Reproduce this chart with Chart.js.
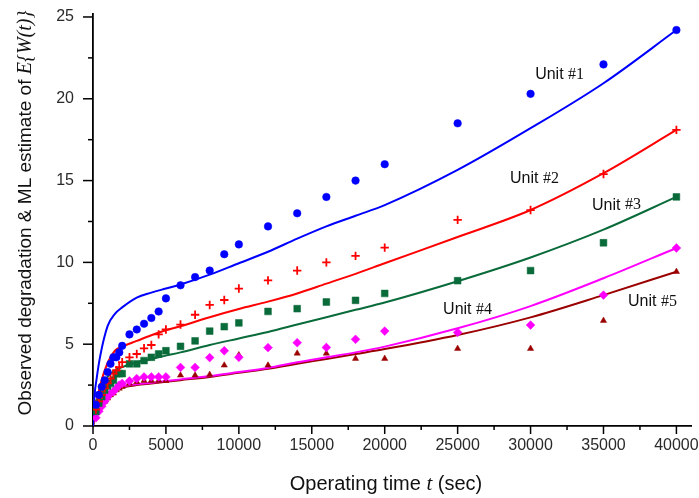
<!DOCTYPE html>
<html><head><meta charset="utf-8">
<script src="https://cdn.jsdelivr.net/npm/chart.js@4/dist/chart.umd.min.js"></script>
<style>html,body{margin:0;padding:0;background:#fff}canvas{display:block}</style>
</head><body>
<canvas id="c" width="699" height="498"></canvas>
<script>
// Observation times (sec)
const times = [200,400,600,800,1000,1200,1400,1600,1800,2000,2500,3000,3500,4000,4500,5000,6000,7000,8000,9000,10000,12000,14000,16000,18000,20000,25000,30000,35000,40000];
// Observed degradation per unit
const unit1 = [1.3,1.9,2.4,2.8,3.3,3.8,4.2,4.2,4.5,4.9,5.6,5.9,6.25,6.6,7.0,7.8,8.6,9.1,9.5,10.5,11.1,12.2,13.0,14.0,15.0,16.0,18.5,20.3,22.1,24.2];
const unit2 = [1.0,1.5,1.9,2.3,2.6,2.9,3.2,3.4,3.6,3.9,4.2,4.4,4.75,4.95,5.6,5.9,6.2,6.8,7.4,7.7,8.4,8.9,9.5,10.0,10.4,10.9,12.6,13.2,15.4,18.1];
const unit3 = [0.9,1.4,1.8,2.2,2.45,2.6,2.8,3.2,3.2,3.2,3.8,3.8,4.0,4.2,4.4,4.6,4.87,5.2,5.8,6.07,6.3,7.0,7.17,7.58,7.68,8.1,8.88,9.5,11.2,14.0];
const unit4 = [0.5,0.9,1.2,1.5,1.75,2.0,2.1,2.3,2.5,2.6,2.75,2.9,3.0,3.0,3.0,3.0,3.58,3.58,4.18,4.6,4.2,4.79,5.09,4.8,5.3,5.8,5.72,6.17,8.0,10.88];
const unit5 = [0.6,1.0,1.3,1.5,1.7,1.9,2.0,2.2,2.3,2.4,2.6,2.7,2.77,2.77,2.77,2.77,3.1,3.1,3.14,3.71,4.34,3.71,4.44,4.44,4.12,4.12,4.73,4.73,6.44,9.43];
// ML estimate curves
const fitTimes = [0,100,250,500,1000,1500,2000,3000,4000,5000,6000,8000,10000,12000,14000,16000,18000,20000,25000,30000,35000,40000];
const fit1 = [0,1.8,2.9,4.3,6.1,6.85,7.25,7.85,8.15,8.4,8.65,9.25,9.95,10.65,11.45,12.2,12.85,13.5,15.65,18.2,20.95,24.2];
const fit2 = [0,0.7,1.5,2.5,3.85,4.6,4.85,5.2,5.55,5.85,6.1,6.65,7.15,7.6,8.1,8.7,9.3,9.95,11.55,13.2,15.45,18.1];
const fit3 = [0,0.6,1.3,2.2,3.0,3.4,3.6,3.9,4.1,4.3,4.5,4.95,5.35,5.75,6.2,6.65,7.1,7.55,8.85,10.3,12.0,14.0];
const fit4 = [0,0.5,1.0,1.5,2.0,2.25,2.4,2.55,2.65,2.75,2.85,3.05,3.3,3.55,3.9,4.2,4.5,4.85,5.97,7.33,9.03,10.88];
const fit5 = [0,0.5,1.0,1.5,2.0,2.2,2.35,2.5,2.6,2.7,2.8,3.0,3.25,3.5,3.8,4.1,4.4,4.7,5.56,6.64,8.0,9.43];
// Axis ticks
const xTicks = [0,5000,10000,15000,20000,25000,30000,35000,40000];
const yTicks = [0,5,10,15,20,25];
const unitNames = ['#1','#2','#3','#4','#5'];

const colors = ['#0000ff','#ff0000','#0a6b3a','#ff00ff','#9b0000'];
const pstyles = ['circle','cross','rect','rectRot','triangle'];
const prad = [3.8,4.2,4.8,4.4,3.6];
const obs = [unit1,unit2,unit3,unit4,unit5];
const fits = [fit1,fit2,fit3,fit4,fit5];
// label anchor positions in data space (layout)
const labelPos = [[31990,21.45],[30270,15.1],[35890,13.5],[25680,7.09],[38360,7.58]];

const datasets = [];
fits.forEach((f,i)=>{
  datasets.push({type:'line', data: fitTimes.map((t,k)=>({x:t,y:f[k]})), borderColor: colors[i], borderWidth: 2,
    pointRadius: 0, fill:false, cubicInterpolationMode:'monotone', order: 1});
});
obs.forEach((o,i)=>{
  datasets.push({type:'scatter', data: times.map((t,k)=>({x:t,y:o[k]})), pointStyle: pstyles[i], pointRadius: prad[i],
    backgroundColor: colors[i], borderColor: colors[i], borderWidth: pstyles[i]==='cross'?1.8:0.5, order: 0});
});

const SANS = '"Liberation Sans", Arial, sans-serif';
const SERIF = '"Liberation Serif", "Times New Roman", serif';

function drawMixed(ctx, parts, x, y){
  let w = 0;
  parts.forEach(p=>{ctx.font=p[1]; w += ctx.measureText(p[0]).width;});
  let cx = x - w/2;
  parts.forEach(p=>{ctx.font=p[1]; ctx.fillText(p[0], cx, y); cx += ctx.measureText(p[0]).width;});
}

const decor = {
  id:'decor',
  afterDraw(chart){
    const ctx = chart.ctx, xs = chart.scales.x, ys = chart.scales.y;
    ctx.save();
    ctx.strokeStyle = '#000'; ctx.lineWidth = 1.5;
    for(let v=0; v<=40000; v+=2500){
      const px = xs.getPixelForValue(v);
      const len = (v%5000===0)?8:4;
      ctx.beginPath(); ctx.moveTo(px, ys.bottom); ctx.lineTo(px, ys.bottom+len); ctx.stroke();
    }
    for(let v=0; v<=25; v+=2.5){
      const py = ys.getPixelForValue(v);
      const len = (v%5===0)?10:5;
      ctx.beginPath(); ctx.moveTo(xs.left, py); ctx.lineTo(xs.left-len, py); ctx.stroke();
    }
    // tick labels
    ctx.fillStyle = '#2a2a2a'; ctx.font = '16px '+SANS; ctx.textBaseline='middle';
    ctx.textAlign='center';
    xTicks.forEach(v=>ctx.fillText(String(v), xs.getPixelForValue(v), 446));
    ctx.textAlign='right';
    yTicks.forEach(v=>ctx.fillText(String(v), 74, ys.getPixelForValue(v)));
    ctx.fillStyle = '#111'; ctx.textAlign='left';
    // x title
    drawMixed(ctx, [['Operating time ', '20px '+SANS],['t','italic 21px '+SERIF],[' (sec)','20px '+SANS]], 386, 484);
    // y title
    ctx.save();
    ctx.translate(26, 213);
    ctx.rotate(-Math.PI/2);
    drawMixed(ctx, [['Observed degradation & ML estimate of ', '19px '+SANS],['E{W(t)}','italic 20px '+SERIF]], 0, 0);
    ctx.restore();
    // unit labels
    labelPos.forEach((p,i)=>{
      drawMixed(ctx, [['Unit ', '16px '+SANS],[unitNames[i],'16px '+SERIF]], xs.getPixelForValue(p[0]), ys.getPixelForValue(p[1]));
    });
    ctx.restore();
  }
};

new Chart(document.getElementById('c'), {
  type:'scatter',
  data:{datasets},
  options:{
    responsive:false, animation:false, devicePixelRatio:1,
    layout:{padding:{top:13.7,right:8,left:0,bottom:0}},
    plugins:{legend:{display:false}, tooltip:{enabled:false}},
    scales:{
      x:{type:'linear', min:0, max:41000,
        afterBuildTicks(s){ s.ticks = xTicks.map(v=>({value:v})); },
        afterFit(s){ s.height = 72; },
        grid:{display:false}, border:{display:true,color:'#000',width:1.8},
        ticks:{display:false}
      },
      y:{type:'linear', min:0, max:25.2,
        afterBuildTicks(s){ s.ticks = yTicks.map(v=>({value:v})); },
        afterFit(s){ s.width = 93; },
        grid:{display:false}, border:{display:true,color:'#000',width:1.8},
        ticks:{display:false}
      }
    }
  },
  plugins:[decor]
});
</script>
</body></html>
